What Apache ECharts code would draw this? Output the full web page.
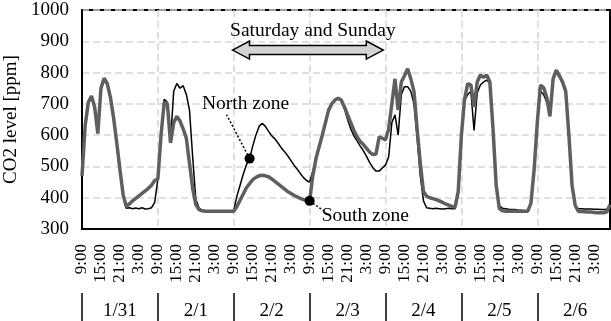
<!DOCTYPE html>
<html lang="en">

<head>
    <meta charset="UTF-8">
    <title>CO2 level</title>
    <style>
        * {
            margin: 0;
            padding: 0;
        }

        #myEcharts {
            width: 611px;
            height: 321px;
            background: #fff;
        }
    </style>
</head>

<body>
    <div id="myEcharts"></div>
    <script src="https://cdn.jsdelivr.net/npm/echarts@6/dist/echarts.min.js"></script>
    <script>
        // hourly values, 1/31 9:00 -> 2/7 8:00
        var days = ['1/31', '2/1', '2/2', '2/3', '2/4', '2/5', '2/6'];
        var startHour = 9;
        var yTicks = [300, 400, 500, 600, 700, 800, 900, 1000];

        var north = [
            470, 630, 705, 725, 690, 610, 750, 775, 760, 715, 650, 570, 485, 405, 366, 368, 365, 367, 365, 368, 364, 365, 368, 385,
            460, 600, 715, 705, 580, 740, 765, 750, 758, 730, 680, 530, 395, 368, 360, 358, 358, 358, 358, 358, 358, 358, 358, 358,
            360, 405, 440, 475, 505, 525, 565, 600, 628, 638, 628, 612, 598, 588, 575, 560, 548, 535, 520, 505, 492, 478, 465, 455,
            450, 485, 525, 560, 598, 638, 678, 700, 712, 720, 710, 685, 650, 620, 598, 582, 565, 550, 532, 512, 496, 485, 485, 495,
            505, 530, 640, 665, 600, 730, 755, 755, 740, 700, 590, 470, 390, 368, 366, 365, 366, 365, 364, 365, 366, 365, 365, 410,
            590, 710, 730, 740, 615, 735, 760, 770, 776, 765, 610, 430, 375, 366, 365, 363, 362, 362, 360, 360, 358, 358, 380, 490,
            630, 740, 730, 705, 690, 775, 800, 785, 765, 735, 595, 430, 372, 365, 365, 364, 364, 364, 363, 363, 362, 362, 362, 375
        ];
        var south = [
            470, 630, 705, 725, 690, 605, 750, 782, 765, 720, 655, 575, 490, 410, 372, 380, 390, 398, 406, 414, 422, 430, 440, 455,
            460, 600, 705, 700, 575, 640, 660, 645, 620, 590, 510, 430, 378, 362, 358, 357, 357, 357, 357, 357, 357, 357, 357, 357,
            357, 372, 392, 412, 432, 445, 458, 465, 470, 472, 470, 467, 460, 452, 444, 436, 428, 420, 414, 408, 403, 398, 394, 391,
            390, 470, 525, 563, 600, 640, 680, 700, 712, 718, 712, 690, 665, 640, 615, 595, 580, 570, 558, 546, 538, 540, 595, 590,
            585, 620, 700, 780, 680, 770, 790, 812, 780, 740, 620, 510, 420, 405, 400, 397, 394, 390, 385, 380, 376, 372, 370, 420,
            600, 715, 765, 760, 690, 770, 792, 785, 792, 770, 620, 440, 365, 358, 357, 357, 357, 357, 357, 357, 357, 357, 383, 490,
            640, 760, 752, 720, 660, 780, 808, 790, 770, 740, 600, 440, 375, 356, 356, 355, 354, 354, 353, 352, 352, 352, 355, 378
        ];

        var northMark = 53, southMark = 72; // marker positions (hour index)
        var weekendFrom = 47.6, weekendTo = 95.3, weekendLevel = 872;

        var hours = [], dayCats = [];
        for (var i = 0; i < north.length; i++) {
            hours.push(((startHour + i) % 24) + ':00');
            dayCats.push(i % 24 === 12 ? days[Math.floor(i / 24)] : '');
        }

        var font = 'Liberation Serif';
        var gridLine = { show: true, lineStyle: { color: '#d6d6d6', width: 1.5, type: [7, 4] } };

        var myEcharts = echarts.init(document.getElementById('myEcharts'));
        var option = {
            animation: false,
            grid: {
                left: 82, right: 1, top: 10, bottom: 92, show: true, borderColor: '#000', borderWidth: 2,
                outerBoundsMode: 'none', containLabel: false
            },
            xAxis: [{
                type: 'category',
                data: hours,
                boundaryGap: false,
                axisLine: { lineStyle: { color: '#000', width: 2 } },
                axisTick: { show: false },
                axisLabel: { interval: 5, rotate: 90, margin: 15, color: '#000', fontFamily: font, fontSize: 17 },
                splitLine: {
                    show: true,
                    interval: function (idx) { return idx % 24 === 0; },
                    lineStyle: gridLine.lineStyle
                }
            }, {
                type: 'category',
                data: dayCats,
                boundaryGap: false,
                position: 'bottom',
                offset: 64,
                axisLine: { show: false },
                axisTick: {
                    show: true,
                    length: 28,
                    interval: function (idx) { return idx % 24 === 0; },
                    lineStyle: { color: '#000', width: 1.5 }
                },
                axisLabel: {
                    interval: function (idx) { return idx % 24 === 12; },
                    margin: 9, color: '#000', fontFamily: font, fontSize: 19
                },
                splitLine: { show: false }
            }],
            yAxis: {
                type: 'value',
                min: yTicks[0],
                max: yTicks[yTicks.length - 1],
                interval: 100,
                name: 'CO2 level [ppm]',
                nameLocation: 'middle',
                nameGap: 52,
                nameTextStyle: { color: '#000', fontFamily: font, fontSize: 19 },
                axisLine: { show: true, lineStyle: { color: '#000', width: 2 } },
                axisTick: { show: false },
                axisLabel: {
                    margin: 13, color: '#000', fontFamily: font, fontSize: 19,
                    formatter: function (v) { return String(v); }
                },
                splitLine: gridLine
            },
            series: [{
                name: 'North zone',
                type: 'line',
                data: north,
                symbol: 'none',
                lineStyle: { color: '#000', width: 1.5 },
                markPoint: {
                    symbol: 'circle', symbolSize: 10,
                    itemStyle: { color: '#000' },
                    label: { show: false },
                    data: [{ coord: [northMark, north[northMark]] }]
                }
            }, {
                name: 'South zone',
                type: 'line',
                data: south,
                symbol: 'none',
                lineStyle: { color: '#5f5f5f', width: 3.5 },
                z: 3,
                markPoint: {
                    symbol: 'circle', symbolSize: 10,
                    itemStyle: { color: '#000' },
                    label: { show: false },
                    data: [{ coord: [southMark, south[southMark]] }]
                }
            }]
        };
        myEcharts.setOption(option);

        // annotations placed from data coordinates
        var p0 = myEcharts.convertToPixel({ xAxisIndex: 0, yAxisIndex: 0 }, [0, 300]);
        var p1 = myEcharts.convertToPixel({ xAxisIndex: 0, yAxisIndex: 0 }, [north.length - 1, 1000]);
        function px(h, v) {
            return [p0[0] + (p1[0] - p0[0]) * h / (north.length - 1), p0[1] + (p1[1] - p0[1]) * (v - 300) / 700];
        }
        var nm = px(northMark, north[northMark]);
        var sm = px(southMark, south[southMark]);
        var a = px(weekendFrom, weekendLevel), b = px(weekendTo, weekendLevel);
        var x0 = a[0], x1 = b[0], yc = a[1];
        var textStyle = { fill: '#000', font: '19.5px "Liberation Serif"' };

        myEcharts.setOption({
            graphic: [{
                type: 'polygon',
                shape: {
                    points: [[x0, yc], [x0 + 17, yc - 9], [x0 + 17, yc - 4.5], [x1 - 17, yc - 4.5], [x1 - 17, yc - 9],
                    [x1, yc], [x1 - 17, yc + 9], [x1 - 17, yc + 4.5], [x0 + 17, yc + 4.5], [x0 + 17, yc + 9]]
                },
                style: { fill: '#d4d4d4', stroke: '#000', lineWidth: 1.5 },
                z: 10
            }, {
                type: 'text',
                x: (x0 + x1) / 2 + 5, y: yc - 19,
                style: Object.assign({ text: 'Saturday and Sunday', align: 'center', verticalAlign: 'middle' }, textStyle),
                z: 10
            }, {
                type: 'line',
                shape: { x1: nm[0], y1: nm[1], x2: nm[0] - 23, y2: nm[1] - 44 },
                style: { stroke: '#000', lineWidth: 1.5, lineDash: [2, 2] },
                z: 10
            }, {
                type: 'text',
                x: nm[0] - 4, y: nm[1] - 55,
                style: Object.assign({ text: 'North zone', align: 'center', verticalAlign: 'middle' }, textStyle),
                z: 10
            }, {
                type: 'line',
                shape: { x1: sm[0], y1: sm[1], x2: sm[0] + 14, y2: sm[1] + 10 },
                style: { stroke: '#000', lineWidth: 1.5, lineDash: [2, 2] },
                z: 10
            }, {
                type: 'text',
                x: sm[0] + 12, y: sm[1] + 15,
                style: Object.assign({ text: 'South zone', align: 'left', verticalAlign: 'middle' }, textStyle),
                z: 10
            }]
        });
    </script>
</body>

</html>
